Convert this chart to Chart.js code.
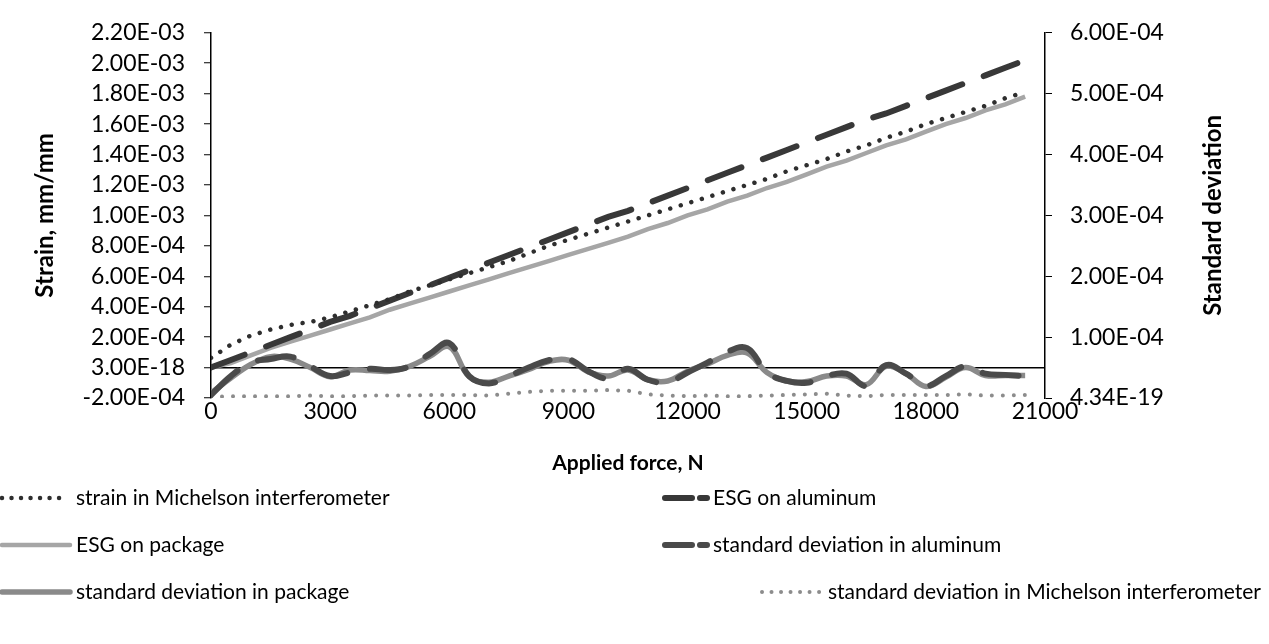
<!DOCTYPE html>
<html>
<head>
<meta charset="utf-8">
<script src="https://cdn.jsdelivr.net/npm/chart.js@4.4.0/dist/chart.umd.min.js"></script>
<style>
  html, body { margin: 0; padding: 0; background: #ffffff; }
  #wrap { width: 1269px; height: 644px; position: relative; }
</style>
</head>
<body>
<div id="wrap"><canvas id="chart" width="1269" height="644"></canvas></div>
<script>
// Applied force, N
const force = [0, 500, 1000, 1500, 2000, 2500, 3000, 3500, 4000, 4500, 5000, 5500, 6000, 6500,
  7000, 7500, 8000, 8500, 9000, 9500, 10000, 10500, 11000, 11500, 12000, 12500, 13000, 13500,
  14000, 14500, 15000, 15500, 16000, 16500, 17000, 17500, 18000, 18500, 19000, 19500, 20000, 20500];

// Strain, mm/mm (left axis)
const strainMichelson = [0.064e-3, 0.15e-3, 0.21e-3, 0.25e-3, 0.28e-3, 0.30e-3, 0.33e-3, 0.37e-3,
  0.41e-3, 0.45e-3, 0.50e-3, 0.54e-3, 0.58e-3, 0.62e-3, 0.66e-3, 0.70e-3, 0.75e-3, 0.80e-3, 0.84e-3,
  0.88e-3, 0.92e-3, 0.96e-3, 1.00e-3, 1.04e-3, 1.08e-3, 1.12e-3, 1.16e-3, 1.20e-3, 1.24e-3, 1.29e-3,
  1.33e-3, 1.37e-3, 1.42e-3, 1.46e-3, 1.51e-3, 1.55e-3, 1.60e-3, 1.64e-3, 1.68e-3, 1.72e-3, 1.77e-3, 1.81e-3];
const esgAluminum = [0.00e-3, 0.05e-3, 0.10e-3, 0.15e-3, 0.20e-3, 0.25e-3, 0.30e-3, 0.34e-3, 0.39e-3,
  0.44e-3, 0.49e-3, 0.54e-3, 0.59e-3, 0.64e-3, 0.69e-3, 0.74e-3, 0.79e-3, 0.84e-3, 0.89e-3, 0.94e-3,
  0.99e-3, 1.03e-3, 1.08e-3, 1.13e-3, 1.18e-3, 1.23e-3, 1.28e-3, 1.33e-3, 1.38e-3, 1.43e-3, 1.48e-3,
  1.53e-3, 1.58e-3, 1.63e-3, 1.67e-3, 1.72e-3, 1.77e-3, 1.82e-3, 1.87e-3, 1.92e-3, 1.97e-3, 2.02e-3];
const esgPackage = [0.00e-3, 0.03e-3, 0.08e-3, 0.13e-3, 0.17e-3, 0.21e-3, 0.25e-3, 0.29e-3, 0.33e-3,
  0.38e-3, 0.42e-3, 0.46e-3, 0.50e-3, 0.54e-3, 0.58e-3, 0.62e-3, 0.66e-3, 0.70e-3, 0.74e-3, 0.78e-3,
  0.82e-3, 0.86e-3, 0.91e-3, 0.95e-3, 1.00e-3, 1.04e-3, 1.09e-3, 1.13e-3, 1.18e-3, 1.22e-3, 1.27e-3,
  1.32e-3, 1.36e-3, 1.41e-3, 1.46e-3, 1.50e-3, 1.55e-3, 1.60e-3, 1.64e-3, 1.69e-3, 1.73e-3, 1.78e-3];

// Standard deviation (right axis)
const sdAluminum = [0.05e-4, 0.36e-4, 0.58e-4, 0.64e-4, 0.68e-4, 0.52e-4, 0.36e-4, 0.42e-4, 0.48e-4,
  0.46e-4, 0.52e-4, 0.72e-4, 0.90e-4, 0.36e-4, 0.24e-4, 0.36e-4, 0.50e-4, 0.62e-4, 0.64e-4, 0.44e-4,
  0.32e-4, 0.48e-4, 0.30e-4, 0.26e-4, 0.42e-4, 0.58e-4, 0.76e-4, 0.82e-4, 0.42e-4, 0.28e-4, 0.25e-4,
  0.36e-4, 0.40e-4, 0.20e-4, 0.54e-4, 0.40e-4, 0.20e-4, 0.36e-4, 0.52e-4, 0.40e-4, 0.38e-4, 0.36e-4];
const sdPackage = [0.08e-4, 0.33e-4, 0.55e-4, 0.68e-4, 0.64e-4, 0.50e-4, 0.35e-4, 0.46e-4, 0.45e-4,
  0.44e-4, 0.52e-4, 0.68e-4, 0.84e-4, 0.35e-4, 0.26e-4, 0.36e-4, 0.47e-4, 0.60e-4, 0.62e-4, 0.43e-4,
  0.36e-4, 0.46e-4, 0.30e-4, 0.28e-4, 0.44e-4, 0.56e-4, 0.70e-4, 0.74e-4, 0.42e-4, 0.28e-4, 0.27e-4,
  0.36e-4, 0.36e-4, 0.22e-4, 0.52e-4, 0.40e-4, 0.19e-4, 0.34e-4, 0.50e-4, 0.37e-4, 0.37e-4, 0.37e-4];
const sdMichelson = [0.02e-4, 0.03e-4, 0.03e-4, 0.03e-4, 0.03e-4, 0.04e-4, 0.03e-4, 0.03e-4, 0.04e-4,
  0.04e-4, 0.04e-4, 0.05e-4, 0.05e-4, 0.05e-4, 0.04e-4, 0.07e-4, 0.10e-4, 0.12e-4, 0.12e-4, 0.12e-4,
  0.13e-4, 0.12e-4, 0.06e-4, 0.04e-4, 0.03e-4, 0.04e-4, 0.03e-4, 0.03e-4, 0.04e-4, 0.05e-4, 0.06e-4,
  0.07e-4, 0.04e-4, 0.03e-4, 0.05e-4, 0.05e-4, 0.05e-4, 0.05e-4, 0.06e-4, 0.04e-4, 0.04e-4, 0.05e-4];

// Axis ticks
const forceTickValues = [0, 3000, 6000, 9000, 12000, 15000, 18000, 21000];
const forceTickLabels = ['0', '3000', '6000', '9000', '12000', '15000', '18000', '21000'];
const strainTickValues = [-2e-4, 0, 2e-4, 4e-4, 6e-4, 8e-4, 10e-4, 12e-4, 14e-4, 16e-4, 18e-4, 20e-4, 22e-4];
const strainTickLabels = ['-2.00E-04', '3.00E-18', '2.00E-04', '4.00E-04', '6.00E-04', '8.00E-04',
  '1.00E-03', '1.20E-03', '1.40E-03', '1.60E-03', '1.80E-03', '2.00E-03', '2.20E-03'];
const sdTickValues = [0, 1e-4, 2e-4, 3e-4, 4e-4, 5e-4, 6e-4];
const sdTickLabels = ['4.34E-19', '1.00E-04', '2.00E-04', '3.00E-04', '4.00E-04', '5.00E-04', '6.00E-04'];

const seriesNames = [
  'strain in Michelson interferometer',
  'ESG on aluminum',
  'ESG on package',
  'standard deviation in aluminum',
  'standard deviation in package',
  'standard deviation in Michelson interferometer'
];

const FONT = 'Lato, "Open Sans", sans-serif';

const pts = arr => force.map((f, i) => ({ x: f, y: arr[i] }));

// Legend: two columns, three rows, drawn under the x-axis title
const legendSlots = [
  { x0: 0,   x1: 68,  y: 498, tx: 76,  dash: [0.01, 9.5] },
  { x0: 663, x1: 707, y: 498, tx: 713, dash: [27, 8] },
  { x0: 0,   x1: 70,  y: 545, tx: 76,  dash: [] },
  { x0: 663, x1: 707, y: 545, tx: 713, dash: [27, 8] },
  { x0: 0,   x1: 70,  y: 592, tx: 76,  dash: [] },
  { x0: 760, x1: 822, y: 592, tx: 828, dash: [0.01, 9.5] }
];

const legendAndTitle = {
  id: 'legendAndTitle',
  afterDraw(chart) {
    const ctx = chart.ctx;
    ctx.save();
    chart.data.datasets.forEach((ds, i) => {
      const s = legendSlots[i];
      ctx.beginPath();
      ctx.setLineDash(s.dash);
      ctx.lineCap = 'round';
      ctx.strokeStyle = ds.borderColor;
      ctx.lineWidth = ds.borderWidth;
      ctx.moveTo(s.x0 + 2, s.y);
      ctx.lineTo(s.x1, s.y);
      ctx.stroke();
      ctx.setLineDash([]);
      ctx.fillStyle = '#000';
      ctx.font = '21px ' + FONT;
      ctx.textBaseline = 'middle';
      ctx.textAlign = 'left';
      ctx.fillText(ds.label, s.tx, s.y);
    });
    // right axis title, reading upwards like the left one
    const area = chart.chartArea;
    ctx.translate(1213, (area.top + area.bottom) / 2);
    ctx.rotate(-Math.PI / 2);
    ctx.font = 'bold 24px ' + FONT;
    ctx.textAlign = 'center';
    ctx.textBaseline = 'middle';
    ctx.fillStyle = '#000';
    ctx.fillText('Standard deviation', 0, 0);
    ctx.restore();
  }
};

new Chart(document.getElementById('chart'), {
  type: 'line',
  data: {
    datasets: [
      { label: seriesNames[0], data: pts(strainMichelson), yAxisID: 'yStrain',
        borderColor: '#2e2e2e', borderWidth: 4.5, borderDash: [0.01, 11], borderCapStyle: 'round',
        tension: 0, pointRadius: 0, fill: false },
      { label: seriesNames[1], data: pts(esgAluminum), yAxisID: 'yStrain',
        borderColor: '#383838', borderWidth: 6, borderDash: [36, 23], borderCapStyle: 'round',
        tension: 0, pointRadius: 0, fill: false },
      { label: seriesNames[2], data: pts(esgPackage), yAxisID: 'yStrain',
        borderColor: '#a6a6a6', borderWidth: 4.5, tension: 0, pointRadius: 0, fill: false },
      { label: seriesNames[3], data: pts(sdAluminum), yAxisID: 'ySd',
        borderColor: '#4a4a4a', borderWidth: 6, borderDash: [36, 23], borderCapStyle: 'round',
        tension: 0.4, pointRadius: 0, fill: false },
      { label: seriesNames[4], data: pts(sdPackage), yAxisID: 'ySd',
        borderColor: '#8a8a8a', borderWidth: 5.5, tension: 0.4, pointRadius: 0, fill: false },
      { label: seriesNames[5], data: pts(sdMichelson), yAxisID: 'ySd',
        borderColor: '#8c8c8c', borderWidth: 4, borderDash: [0.01, 11], borderCapStyle: 'round',
        tension: 0, pointRadius: 0, fill: false }
    ]
  },
  options: {
    responsive: false,
    animation: false,
    events: [],
    layout: { padding: { top: 24, left: 0, right: 0, bottom: 0 } },
    plugins: { legend: { display: false }, tooltip: { enabled: false } },
    scales: {
      x: {
        type: 'linear', position: 'bottom', min: 0, max: 21000,
        afterBuildTicks: s => { s.ticks = forceTickValues.map(v => ({ value: v })); },
        afterFit: s => { s.height = 246; },
        grid: { display: false, drawTicks: false },
        border: { display: false },
        ticks: {
          padding: 0, color: '#000', maxRotation: 0, autoSkip: false,
          font: { family: FONT, size: 23 },
          callback: (v, i) => forceTickLabels[i]
        },
        title: {
          display: true, text: 'Applied force, N', color: '#000',
          font: { family: FONT, size: 21, weight: 'bold' },
          padding: { top: 0, bottom: 168 }
        }
      },
      yStrain: {
        type: 'linear', position: 'left', min: -2e-4, max: 22e-4,
        afterBuildTicks: s => { s.ticks = strainTickValues.map(v => ({ value: v })); },
        afterFit: s => { s.width = 211; },
        grid: {
          color: c => (c.tick && c.tick.value === 0 ? '#000' : 'rgba(0,0,0,0)'),
          lineWidth: 1.5, tickColor: '#000', tickLength: 7, tickWidth: 1
        },
        border: { display: true, color: '#000', width: 1.5 },
        ticks: {
          padding: 19, color: '#000', autoSkip: false,
          font: { family: FONT, size: 23 },
          callback: (v, i) => strainTickLabels[i]
        },
        title: {
          display: true, text: 'Strain, mm/mm', color: '#000',
          font: { family: FONT, size: 24, weight: 'bold' },
          padding: { top: 31, bottom: 0 }
        }
      },
      ySd: {
        type: 'linear', position: 'right', min: 0, max: 6e-4,
        afterBuildTicks: s => { s.ticks = sdTickValues.map(v => ({ value: v })); },
        afterFit: s => { s.width = 224; },
        grid: { drawOnChartArea: false, tickColor: '#000', tickLength: 7, tickWidth: 1 },
        border: { display: true, color: '#000', width: 1.5 },
        ticks: {
          padding: 18, color: '#000', autoSkip: false,
          font: { family: FONT, size: 23 },
          callback: (v, i) => sdTickLabels[i]
        }
      }
    }
  },
  plugins: [legendAndTitle]
});
</script>
</body>
</html>
